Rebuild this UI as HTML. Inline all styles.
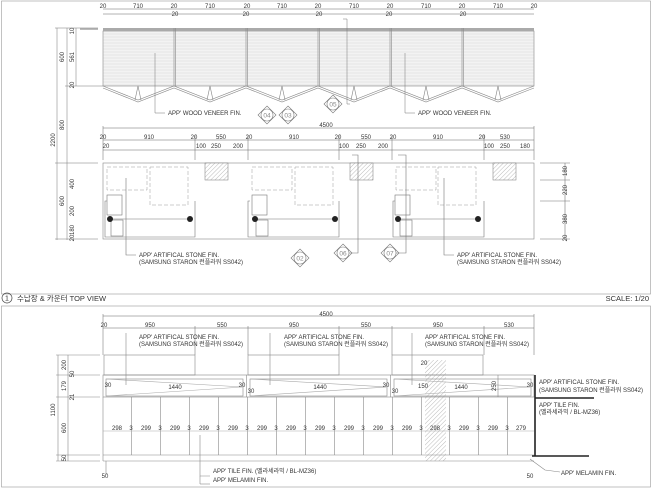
<!DOCTYPE html>
<html><head><meta charset="utf-8"><style>
html,body{margin:0;padding:0;background:#fff}
svg{display:block}
text{font-family:"Liberation Sans","Noto Sans CJK KR",sans-serif;fill:#333}
</style></head><body>
<svg width="652" height="488" viewBox="0 0 652 488" xmlns="http://www.w3.org/2000/svg">
<defs>
<pattern id="wood" width="6" height="3" patternUnits="userSpaceOnUse"><rect width="6" height="3" fill="#f3f3f3"/><line x1="0" y1="1" x2="6" y2="1" stroke="#e0e0e0" stroke-width="0.7"/></pattern>
<pattern id="hat" width="3" height="3" patternUnits="userSpaceOnUse" patternTransform="rotate(45)"><rect width="3" height="3" fill="#fff"/><line x1="0" y1="0" x2="0" y2="3" stroke="#aaa" stroke-width="0.8"/></pattern>
</defs>
<g fill="none" stroke="#999" stroke-width="0.6">
<rect x="1.5" y="1" width="649" height="293"/>
<rect x="1.5" y="306" width="649" height="181"/>
</g>
<g stroke="#666" stroke-width="0.5" fill="none">
<line x1="103" y1="9" x2="534" y2="9"/>
<line x1="103" y1="14" x2="534" y2="14"/>
</g>
<g font-size="6" text-anchor="middle">
<text x="103" y="8">20</text><text x="138" y="8">710</text><text x="174" y="8">20</text>
<text x="210" y="8">710</text><text x="247" y="8">20</text><text x="282" y="8">710</text>
<text x="318" y="8">20</text><text x="354" y="8">710</text><text x="390" y="8">20</text>
<text x="426" y="8">710</text><text x="462" y="8">20</text><text x="498" y="8">710</text><text x="534" y="8">20</text>
<text x="175" y="16">20</text><text x="246" y="16">20</text><text x="319" y="16">20</text><text x="389" y="16">20</text><text x="463" y="16">20</text>
</g>
<rect x="103" y="31" width="431" height="55" fill="url(#wood)" stroke="#888" stroke-width="0.6"/>
<rect x="103" y="28" width="431" height="3" fill="#aaa"/>
<rect x="80" y="28" width="18" height="2" fill="#bbb"/>
<g stroke="#888" stroke-width="0.6" fill="none">
<path d="M103,86 L138,100 L174,86 L210,100 L246,86 L282,100 L318,86 L354,100 L390,86 L426,100 L462,86 L498,100 L534,86"/>
<path d="M103,88 L138,102 L174,88 L210,102 L246,88 L282,102 L318,88 L354,102 L390,88 L426,102 L462,88 L498,102 L534,88"/>
<path d="M135,100 L138,86 L141,100 M207,100 L210,86 L213,100 M279,100 L282,86 L285,100 M351,100 L354,86 L357,100 M423,100 L426,86 L429,100 M495,100 L498,86 L501,100"/>
<line x1="174" y1="28" x2="174" y2="86"/><line x1="175.5" y1="28" x2="175.5" y2="86"/>
<line x1="246" y1="28" x2="246" y2="86"/><line x1="247.5" y1="28" x2="247.5" y2="86"/>
<line x1="318" y1="28" x2="318" y2="86"/><line x1="319.5" y1="28" x2="319.5" y2="86"/>
<line x1="390" y1="28" x2="390" y2="86"/><line x1="391.5" y1="28" x2="391.5" y2="86"/>
<line x1="462" y1="28" x2="462" y2="86"/><line x1="463.5" y1="28" x2="463.5" y2="86"/>
</g>
<g stroke="#777" stroke-width="0.5" fill="none">
<line x1="57" y1="28" x2="57" y2="240"/><line x1="67" y1="28" x2="67" y2="240"/><line x1="76" y1="28" x2="76" y2="86"/>
<line x1="55" y1="28" x2="98" y2="28"/><line x1="65" y1="86" x2="103" y2="86"/>
<line x1="55" y1="163" x2="98" y2="163"/><line x1="55" y1="239" x2="98" y2="239"/>
<polyline points="155,53 155,113 165,113"/><polyline points="405,53 405,113 415,113"/>
<polyline points="350,104 347,104 347,19 343,19"/>
</g>
<g font-size="6" text-anchor="middle">
<text transform="translate(55,140) rotate(-90)">2200</text>
<text transform="translate(64,57) rotate(-90)">600</text>
<text transform="translate(74,57) rotate(-90)">561</text>
<text transform="translate(74,31) rotate(-90)">10</text>
<text transform="translate(74,85) rotate(-90)">20</text>
<text transform="translate(64,125) rotate(-90)">800</text>
<text transform="translate(64,201) rotate(-90)">600</text>
<text transform="translate(74,184) rotate(-90)">400</text>
<text transform="translate(74,211) rotate(-90)">200</text>
<text transform="translate(74,230) rotate(-90)">180</text>
<text transform="translate(74,238) rotate(-90)">20</text>
</g>
<g font-size="6"><text x="168" y="115">APP' WOOD VENEER FIN.</text><text x="418" y="115">APP' WOOD VENEER FIN.</text></g>
<g stroke="#777" stroke-width="0.6" fill="#fff">
<path d="M267,106 L276,115 L267,124 L258,115Z" fill="none"/><circle cx="267" cy="115" r="6"/>
<path d="M288,106 L297,115 L288,124 L279,115Z" fill="none"/><circle cx="288" cy="115" r="6"/>
<path d="M333,95 L342,104 L333,113 L324,104Z" fill="none"/><circle cx="333" cy="104" r="6"/>
</g>
<g font-size="6.5" text-anchor="middle"><text x="267" y="117.5" style="fill:#888">04</text><text x="288" y="117.5" style="fill:#888">03</text><text x="333" y="106.5" style="fill:#888">05</text></g>
<g stroke="#666" stroke-width="0.5" fill="none">
<line x1="103" y1="128" x2="534" y2="128"/><line x1="103" y1="140" x2="534" y2="140"/><line x1="103" y1="150" x2="534" y2="150"/>
<line x1="103" y1="126" x2="103" y2="160"/><line x1="534" y1="126" x2="534" y2="160"/>
<line x1="195" y1="135" x2="195" y2="160"/><line x1="248" y1="135" x2="248" y2="160"/><line x1="339" y1="135" x2="339" y2="160"/><line x1="392" y1="135" x2="392" y2="160"/><line x1="484" y1="135" x2="484" y2="160"/>
</g>
<g font-size="6" text-anchor="middle">
<text x="326" y="127">4500</text>
<text x="103" y="139">20</text><text x="149" y="139">910</text><text x="194" y="139">20</text><text x="221" y="139">550</text><text x="249" y="139">20</text><text x="294" y="139">910</text><text x="338" y="139">20</text><text x="366" y="139">550</text><text x="393" y="139">20</text><text x="438" y="139">910</text><text x="482" y="139">20</text><text x="505" y="139">530</text>
<text x="106" y="148">20</text><text x="201" y="148">100</text><text x="216" y="148">250</text><text x="238" y="148">200</text>
<text x="344" y="148">100</text><text x="361" y="148">250</text><text x="383" y="148">200</text>
<text x="489" y="148">100</text><text x="505" y="148">250</text><text x="525" y="148">180</text>
</g>
<rect x="103" y="163" width="431" height="76" fill="none" stroke="#888" stroke-width="0.6"/>
<g fill="url(#hat)" stroke="#777" stroke-width="0.5">
<rect x="205" y="163" width="23" height="17"/><rect x="350" y="163" width="23" height="17"/><rect x="493" y="163" width="23" height="17"/>
</g>
<g stroke="#999" stroke-width="0.5" fill="none" stroke-dasharray="4,2">
<rect x="107" y="167" width="40" height="23"/><rect x="150" y="167" width="38" height="38"/>
<rect x="252" y="167" width="40" height="23"/><rect x="295" y="167" width="38" height="38"/>
<rect x="396" y="167" width="40" height="23"/><rect x="438" y="167" width="38" height="38"/>
</g>
<g stroke="#777" stroke-width="0.6" fill="none">
<path d="M107,201 L105,201 L105,237 L195,237 L195,201"/><path d="M250,201 L248,201 L248,237 L339,237 L339,201"/><path d="M395,201 L393,201 L393,237 L484,237 L484,201"/>
<rect x="107" y="195" width="15" height="20"/><rect x="111" y="220" width="12" height="16"/>
<rect x="252" y="195" width="15" height="20"/><rect x="256" y="220" width="12" height="16"/>
<rect x="395" y="195" width="15" height="20"/><rect x="400" y="220" width="12" height="16"/>
<line x1="110" y1="219" x2="190" y2="219"/><line x1="255" y1="219" x2="335" y2="219"/><line x1="398" y1="219" x2="478" y2="219"/>
<polyline points="126,178 126,255 136,255"/><polyline points="444,178 444,255 454,255"/>
<polyline points="352,155 358,155 358,253 349,253"/><polyline points="398,155 406,155 406,253 396,253"/>
<line x1="540" y1="163" x2="570" y2="163"/><line x1="540" y1="180" x2="570" y2="180"/><line x1="540" y1="201" x2="570" y2="201"/><line x1="540" y1="239" x2="570" y2="239"/><line x1="565" y1="163" x2="565" y2="239"/>
</g>
<g fill="#222"><circle cx="110" cy="219" r="3"/><circle cx="190" cy="219" r="3"/><circle cx="255" cy="219" r="3"/><circle cx="335" cy="219" r="3"/><circle cx="398" cy="219" r="3"/><circle cx="478" cy="219" r="3"/></g>
<g font-size="6" text-anchor="middle">
<text transform="translate(567,171) rotate(-90)">180</text><text transform="translate(567,190) rotate(-90)">220</text><text transform="translate(567,219) rotate(-90)">380</text><text transform="translate(567,238) rotate(-90)">20</text>
</g>
<g font-size="6"><text x="139" y="257">APP' ARTIFICAL STONE FIN.</text><text x="139" y="264">(SAMSUNG STARON 런플라워 SS042)</text>
<text x="457" y="257">APP' ARTIFICAL STONE FIN.</text><text x="457" y="264">(SAMSUNG STARON 런플라워 SS042)</text></g>
<g stroke="#777" stroke-width="0.6" fill="#fff">
<path d="M300,249 L309,258 L300,267 L291,258Z" fill="none"/><circle cx="300" cy="258" r="6"/>
<path d="M343,244 L352,253 L343,262 L334,253Z" fill="none"/><circle cx="343" cy="253" r="6"/>
<path d="M390,244 L399,253 L390,262 L381,253Z" fill="none"/><circle cx="390" cy="253" r="6"/>
</g>
<g font-size="6.5" text-anchor="middle"><text x="300" y="260.5" style="fill:#888">02</text><text x="343" y="255.5" style="fill:#888">06</text><text x="390" y="255.5" style="fill:#888">07</text></g>
<circle cx="7" cy="298" r="5" fill="none" stroke="#444" stroke-width="0.7"/>
<text x="7" y="300.5" font-size="7" text-anchor="middle">1</text>
<text x="17" y="301" font-size="7.5">수납장 &amp; 카운터 TOP VIEW</text>
<text x="649" y="301" font-size="7.5" text-anchor="end">SCALE: 1/20</text>
<g stroke="#666" stroke-width="0.5" fill="none">
<line x1="103" y1="316" x2="534" y2="316"/><line x1="103" y1="328" x2="534" y2="328"/>
<line x1="103" y1="314" x2="103" y2="355"/><line x1="534" y1="314" x2="534" y2="355"/>
<line x1="195" y1="326" x2="195" y2="355"/><line x1="248" y1="326" x2="248" y2="355"/><line x1="339" y1="326" x2="339" y2="355"/><line x1="392" y1="326" x2="392" y2="355"/><line x1="484" y1="326" x2="484" y2="355"/>
</g>
<g font-size="6" text-anchor="middle">
<text x="326" y="316">4500</text>
<text x="104" y="327">20</text><text x="150" y="327">950</text><text x="222" y="327">550</text><text x="294" y="327">950</text><text x="366" y="327">550</text><text x="438" y="327">950</text><text x="509" y="327">530</text>
</g>
<g font-size="6"><text x="139" y="339">APP' ARTIFICAL STONE FIN.</text><text x="139" y="346">(SAMSUNG STARON 런플라워 SS042)</text>
<text x="284" y="339">APP' ARTIFICAL STONE FIN.</text><text x="284" y="346">(SAMSUNG STARON 런플라워 SS042)</text>
<text x="425" y="339">APP' ARTIFICAL STONE FIN.</text><text x="425" y="346">(SAMSUNG STARON 런플라워 SS042)</text></g>
<rect x="425" y="360" width="21" height="101" fill="url(#hat)"/>
<g stroke="#888" stroke-width="0.6" fill="none">
<rect x="104" y="355" width="91" height="20"/><rect x="248" y="355" width="91" height="20"/><rect x="392" y="355" width="91" height="20"/>
<rect x="103" y="375" width="431" height="22"/>
<line x1="103" y1="455" x2="534" y2="455"/><line x1="103" y1="461" x2="534" y2="461"/>
<line x1="103" y1="397" x2="103" y2="461"/>
<rect x="106" y="379" width="137" height="17"/><rect x="250" y="379" width="137" height="17"/><rect x="394" y="379" width="137" height="17"/>
<path d="M106,379 L243,387 L106,396 M250,379 L387,387 L250,396 M394,379 L531,387 L394,396" stroke="#aaa"/>
<line x1="246.5" y1="375" x2="246.5" y2="397"/><line x1="390.5" y1="375" x2="390.5" y2="397"/>
<line x1="131.5" y1="397" x2="131.5" y2="455"/><line x1="160.5" y1="397" x2="160.5" y2="455"/><line x1="189.5" y1="397" x2="189.5" y2="455"/><line x1="218.5" y1="397" x2="218.5" y2="455"/><line x1="247.5" y1="397" x2="247.5" y2="455"/><line x1="276.5" y1="397" x2="276.5" y2="455"/><line x1="305.5" y1="397" x2="305.5" y2="455"/><line x1="334.5" y1="397" x2="334.5" y2="455"/><line x1="363.5" y1="397" x2="363.5" y2="455"/><line x1="392.5" y1="397" x2="392.5" y2="455"/><line x1="421.5" y1="397" x2="421.5" y2="455"/><line x1="449.5" y1="397" x2="449.5" y2="455"/><line x1="478.5" y1="397" x2="478.5" y2="455"/><line x1="507.5" y1="397" x2="507.5" y2="455"/>
<line x1="103" y1="431" x2="534" y2="431" stroke="#aaa"/>
<line x1="58" y1="355" x2="58" y2="461"/><line x1="68" y1="355" x2="68" y2="461"/>
<line x1="56" y1="355" x2="100" y2="355"/><line x1="56" y1="375" x2="100" y2="375"/><line x1="56" y1="397" x2="100" y2="397"/><line x1="56" y1="455" x2="100" y2="455"/><line x1="56" y1="461" x2="100" y2="461"/>
<line x1="106" y1="461" x2="106" y2="475"/>
<polyline points="126,333 126,385"/><polyline points="270,333 270,385"/><polyline points="412,333 412,385"/>
<polyline points="200,435 200,476 210,476"/><line x1="200" y1="484" x2="210" y2="484"/><line x1="200" y1="476" x2="200" y2="484"/>
<line x1="498" y1="375" x2="498" y2="397"/>
<polyline points="530,459 545,470 560,472"/>
</g>
<g stroke="#222" stroke-width="1.6" fill="none">
<line x1="535" y1="375" x2="535" y2="456"/><line x1="535" y1="398" x2="594" y2="398"/><line x1="532" y1="456" x2="589" y2="456"/>
</g>
<g font-size="6" text-anchor="middle">
<text x="108" y="387">30</text><text x="175" y="389">1440</text><text x="242" y="387">30</text><text x="251" y="393">30</text><text x="320" y="389">1440</text><text x="386" y="387">30</text><text x="395" y="393">30</text><text x="423" y="388">150</text><text x="461" y="389">1440</text><text x="530" y="387">30</text>
<text x="424" y="365">20</text>
<text x="117" y="430">298</text><text x="131" y="430">3</text><text x="146" y="430">299</text><text x="160" y="430">3</text><text x="175" y="430">299</text><text x="189" y="430">3</text><text x="204" y="430">299</text><text x="218" y="430">3</text><text x="233" y="430">299</text><text x="247" y="430">3</text><text x="262" y="430">299</text><text x="276" y="430">3</text><text x="291" y="430">299</text><text x="305" y="430">3</text><text x="320" y="430">299</text><text x="334" y="430">3</text><text x="349" y="430">299</text><text x="363" y="430">3</text><text x="378" y="430">299</text><text x="392" y="430">3</text><text x="407" y="430">299</text><text x="421" y="430">3</text><text x="435" y="430">298</text><text x="449" y="430">3</text><text x="464" y="430">299</text><text x="478" y="430">3</text><text x="493" y="430">299</text><text x="507" y="430">3</text><text x="521" y="430">279</text>
<text x="105" y="478">50</text><text x="530" y="478">50</text>
<text transform="translate(55,410) rotate(-90)">1100</text>
<text transform="translate(66,365) rotate(-90)">200</text><text transform="translate(74,374) rotate(-90)">50</text>
<text transform="translate(66,386) rotate(-90)">179</text><text transform="translate(74,397) rotate(-90)">21</text>
<text transform="translate(66,428) rotate(-90)">600</text><text transform="translate(66,458) rotate(-90)">50</text>
<text transform="translate(496,386) rotate(-90)">250</text>
</g>
<g font-size="6"><text x="539" y="384">APP' ARTIFICAL STONE FIN.</text><text x="539" y="392">(SAMSUNG STARON 런플라워 SS042)</text>
<text x="539" y="407">APP' TILE FIN.</text><text x="539" y="414">(벨라세라믹 / BL-MZ36)</text>
<text x="561" y="475">APP' MELAMIN FIN.</text>
<text x="213" y="473">APP' TILE FIN. (벨라세라믹 / BL-MZ36)</text><text x="213" y="482">APP' MELAMIN FIN.</text></g>
</svg>
</body></html>
